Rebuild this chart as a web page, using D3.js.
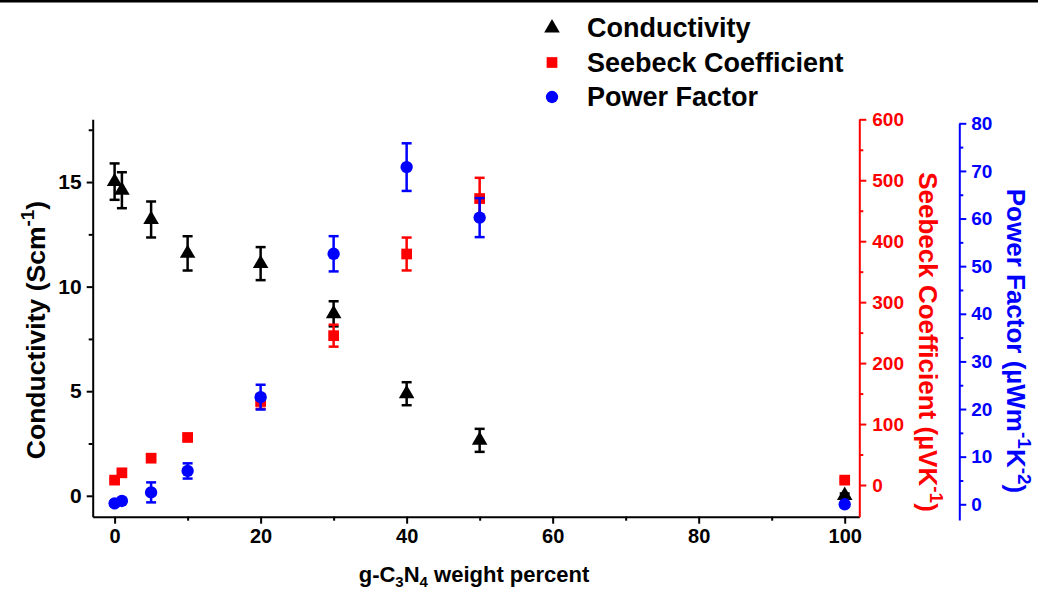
<!DOCTYPE html>
<html lang="en">
<head>
    <meta charset="UTF-8">
    <title>Conductivity, Seebeck and Power Factor vs g-C3N4</title>
    <script src="https://cdnjs.cloudflare.com/ajax/libs/d3/7.8.5/d3.min.js"></script>
    <style>
        body { margin: 0; background: white; }
        svg { display: block; font-family: Arial, "Liberation Sans", sans-serif; font-weight: bold; }
    </style>
</head>
<body>
    <div id="chart"></div>

    <script>
        // Data
        const weight = [0, 1, 5, 10, 20, 30, 40, 50, 100];
        const conductivity = [15.02, 14.61, 13.21, 11.59, 11.10, 8.70, 4.88, 2.65, 0.01];
        const conductivityErr = [0.87, 0.86, 0.86, 0.82, 0.79, 0.6, 0.55, 0.55, 0.1];
        const seebeck = [8, 20, 44, 78, 137, 245, 379, 470, 8];
        const seebeckErr = [3, 3, 4, 4, 12, 18, 27, 34, 3];
        const powerFactor = [0.2, 0.7, 2.5, 7.0, 22.5, 52.6, 70.8, 60.2, 0];
        const powerFactorErr = [0.4, 0.4, 2.1, 1.6, 2.6, 3.7, 5.0, 4.1, 0.3];

        const xTicks = [0, 20, 40, 60, 80, 100];
        const xMinor = [10, 30, 50, 70, 90];
        const leftTicks = [0, 5, 10, 15];
        const leftMinor = [2.5, 7.5, 12.5, 17.5];
        const redTicks = [0, 100, 200, 300, 400, 500, 600];
        const redMinor = [50, 150, 250, 350, 450, 550];
        const blueTicks = [0, 10, 20, 30, 40, 50, 60, 70, 80];
        const blueMinor = [5, 15, 25, 35, 45, 55, 65, 75];

        const legendItems = ["Conductivity", "Seebeck Coefficient", "Power Factor"];

        const width = 1038, height = 589;
        const RED = "#ff0000", BLUE = "#0000ff";

        const svg = d3.select("#chart").append("svg")
            .attr("width", width)
            .attr("height", height);

        // thin black line along the top edge
        svg.append("rect").attr("x", 0).attr("y", 0)
            .attr("width", width).attr("height", 2.5).attr("fill", "#000");

        // Scales
        const x = d3.scaleLinear().domain([-3, 102]).range([92.7, 859.3]);
        const yL = d3.scaleLinear().domain([-1, 18]).range([516.7, 119.3]);
        const yR = d3.scaleLinear().domain([-52, 600]).range([516.7, 119.3]);
        const yB = d3.scaleLinear().domain([-3.3, 80]).range([520, 123.3]);

        function styleAxis(g, color, fs) {
            g.select(".domain").attr("stroke", color).attr("stroke-width", 2);
            g.selectAll(".tick line").attr("stroke", color).attr("stroke-width", 2);
            g.selectAll(".tick text").attr("fill", color)
                .style("font-size", (fs || 18) + "px").style("font-weight", "bold");
        }

        // Bottom axis
        const gx = svg.append("g").attr("transform", `translate(0,${yL.range()[0]})`)
            .call(d3.axisBottom(x).tickValues(xTicks).tickSize(7).tickPadding(5).tickSizeOuter(0));
        styleAxis(gx, "#000", 20);
        const gxm = svg.append("g").attr("transform", `translate(0,${yL.range()[0]})`)
            .call(d3.axisBottom(x).tickValues(xMinor).tickSize(4).tickFormat("").tickSizeOuter(0));
        styleAxis(gxm, "#000");
        gxm.select(".domain").remove();

        // Left axis
        const gl = svg.append("g").attr("transform", `translate(${x.range()[0]},0)`)
            .call(d3.axisLeft(yL).tickValues(leftTicks).tickSize(6).tickPadding(5).tickSizeOuter(0));
        styleAxis(gl, "#000", 21);
        const glm = svg.append("g").attr("transform", `translate(${x.range()[0]},0)`)
            .call(d3.axisLeft(yL).tickValues(leftMinor).tickSize(4).tickFormat("").tickSizeOuter(0));
        styleAxis(glm, "#000");
        glm.select(".domain").remove();

        // Red (Seebeck) axis
        const gr = svg.append("g").attr("transform", `translate(${x.range()[1]},0)`)
            .call(d3.axisRight(yR).tickValues(redTicks).tickSize(7).tickPadding(6).tickSizeOuter(0));
        styleAxis(gr, RED, 19);
        const grm = svg.append("g").attr("transform", `translate(${x.range()[1]},0)`)
            .call(d3.axisRight(yR).tickValues(redMinor).tickSize(4).tickFormat("").tickSizeOuter(0));
        styleAxis(grm, RED);
        grm.select(".domain").remove();

        // Blue (power factor) axis
        const bx = 959.3;
        const gb = svg.append("g").attr("transform", `translate(${bx},0)`)
            .call(d3.axisRight(yB).tickValues(blueTicks).tickSize(7).tickPadding(5).tickSizeOuter(0));
        styleAxis(gb, BLUE, 19);
        const gbm = svg.append("g").attr("transform", `translate(${bx},0)`)
            .call(d3.axisRight(yB).tickValues(blueMinor).tickSize(4).tickFormat("").tickSizeOuter(0));
        styleAxis(gbm, BLUE);
        gbm.select(".domain").remove();

        // Axis titles
        const xt = svg.append("text")
            .attr("x", (x.range()[0] + x.range()[1]) / 2 - 2)
            .attr("y", 582)
            .attr("text-anchor", "middle")
            .style("font-size", "22px");
        xt.append("tspan").text("g-C");
        xt.append("tspan").attr("dy", 5).style("font-size", "15px").text("3");
        xt.append("tspan").attr("dy", -5).text("N");
        xt.append("tspan").attr("dy", 5).style("font-size", "15px").text("4");
        xt.append("tspan").attr("dy", -5).text(" weight percent");

        const lt = svg.append("text")
            .attr("transform", "translate(45,330) rotate(-90)")
            .attr("text-anchor", "middle")
            .style("font-size", "26.5px");
        lt.append("tspan").text("Conductivity (Scm");
        lt.append("tspan").attr("dy", -11).style("font-size", "19px").text("-1");
        lt.append("tspan").attr("dy", 11).text(")");

        const rt = svg.append("text")
            .attr("transform", "translate(919,342) rotate(90)")
            .attr("text-anchor", "middle")
            .attr("fill", RED)
            .style("font-size", "26px");
        rt.append("tspan").text("Seebeck Coefficient (\u00b5VK");
        rt.append("tspan").attr("dy", -11).style("font-size", "19px").text("-1");
        rt.append("tspan").attr("dy", 11).text(")");

        const bt = svg.append("text")
            .attr("transform", "translate(1007,341) rotate(90)")
            .attr("text-anchor", "middle")
            .attr("fill", BLUE)
            .style("font-size", "26px");
        bt.append("tspan").text("Power Factor (\u00b5Wm");
        bt.append("tspan").attr("dy", -11).style("font-size", "19px").text("-1");
        bt.append("tspan").attr("dy", 11).text("K");
        bt.append("tspan").attr("dy", -11).style("font-size", "19px").text("-2");
        bt.append("tspan").attr("dy", 11).text(")");

        // Series
        const series = [
            { vals: conductivity, errs: conductivityErr, y: yL, color: "#000", shape: d3.symbolTriangle, size: 105 },
            { vals: seebeck, errs: seebeckErr, y: yR, color: RED, shape: d3.symbolSquare, size: 115 },
            { vals: powerFactor, errs: powerFactorErr, y: yB, color: BLUE, shape: d3.symbolCircle, size: 120 }
        ];

        series.forEach(s => {
            const g = svg.append("g");
            const pts = weight.map((w, i) => ({ w, v: s.vals[i], e: s.errs[i] }));
            const cap = 5;
            const eb = g.selectAll("g.err").data(pts).enter().append("g")
                .attr("stroke", s.color).attr("stroke-width", 2.5);
            eb.append("line")
                .attr("x1", d => x(d.w)).attr("x2", d => x(d.w))
                .attr("y1", d => s.y(d.v - d.e)).attr("y2", d => s.y(d.v + d.e));
            eb.append("line")
                .attr("x1", d => x(d.w) - cap).attr("x2", d => x(d.w) + cap)
                .attr("y1", d => s.y(d.v + d.e)).attr("y2", d => s.y(d.v + d.e));
            eb.append("line")
                .attr("x1", d => x(d.w) - cap).attr("x2", d => x(d.w) + cap)
                .attr("y1", d => s.y(d.v - d.e)).attr("y2", d => s.y(d.v - d.e));
            g.selectAll("path.pt").data(pts).enter().append("path")
                .attr("class", "pt")
                .attr("transform", d => `translate(${x(d.w)},${s.y(d.v)})`)
                .attr("d", d3.symbol().type(s.shape).size(s.size))
                .attr("fill", s.color);
        });

        // Legend
        const legend = svg.append("g").attr("transform", "translate(552,28)");
        const li = legend.selectAll("g").data(legendItems).enter().append("g")
            .attr("transform", (d, i) => `translate(0,${i * 34.5})`);
        li.append("path")
            .attr("d", (d, i) => d3.symbol().type(series[i].shape).size(series[i].size)())
            .attr("fill", (d, i) => series[i].color);
        li.append("text")
            .attr("x", 35)
            .attr("y", 9)
            .style("font-size", "27px")
            .text(d => d);
    </script>
</body>
</html>
